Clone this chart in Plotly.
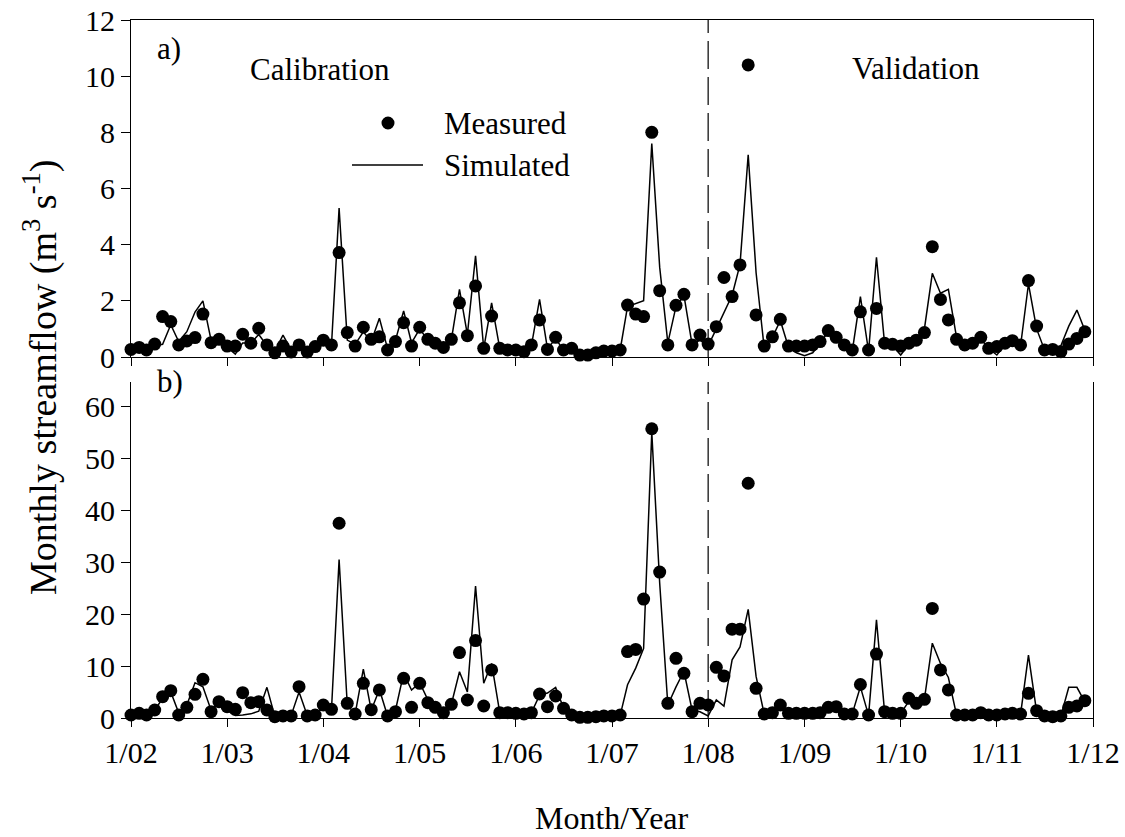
import pandas as pd
import plotly.graph_objects as go

# Monthly series, Jan 2002 - Dec 2011
months = pd.date_range("2002-01-01", periods=120, freq="MS")

# Panel a) streamflow (m3/s)
measured_a = [
    0.27, 0.34, 0.25, 0.46, 1.44, 1.26, 0.43, 0.57, 0.69, 1.53, 0.51, 0.63,
    0.39, 0.39, 0.81, 0.49, 1.02, 0.43, 0.15, 0.39, 0.18, 0.43, 0.18, 0.37,
    0.60, 0.43, 3.72, 0.87, 0.39, 1.06, 0.63, 0.72, 0.25, 0.55, 1.22, 0.39,
    1.06, 0.63, 0.49, 0.34, 0.63, 1.93, 0.76, 2.53, 0.31, 1.46, 0.31, 0.25,
    0.25, 0.19, 0.43, 1.32, 0.27, 0.70, 0.25, 0.31, 0.07, 0.07, 0.15, 0.21,
    0.21, 0.25, 1.85, 1.53, 1.44, 8.00, 2.36, 0.43, 1.84, 2.23, 0.43, 0.78,
    0.46, 1.08, 2.83, 2.15, 3.28, 10.40, 1.50, 0.39, 0.72, 1.34, 0.39, 0.39,
    0.39, 0.43, 0.55, 0.94, 0.70, 0.43, 0.25, 1.61, 0.25, 1.73, 0.49, 0.45,
    0.39, 0.49, 0.60, 0.87, 3.93, 2.05, 1.32, 0.63, 0.43, 0.49, 0.70, 0.31,
    0.37, 0.49, 0.58, 0.43, 2.72, 1.10, 0.25, 0.27, 0.19, 0.46, 0.66, 0.90,
]
simulated_a = [
    0.25, 0.30, 0.20, 0.40, 0.45, 1.15, 0.55, 0.90, 1.60, 2.00, 0.60, 0.60,
    0.35, 0.10, 0.50, 0.50, 0.80, 0.40, 0.20, 0.78, 0.25, 0.35, 0.20, 0.30,
    0.50, 0.40, 5.30, 0.60, 0.45, 0.90, 0.55, 1.38, 0.30, 0.60, 1.64, 0.50,
    1.00, 0.60, 0.45, 0.35, 0.60, 2.41, 0.80, 3.60, 0.30, 1.93, 0.30, 0.25,
    0.25, 0.20, 0.40, 2.05, 0.30, 0.65, 0.25, 0.30, 0.10, 0.10, 0.15, 0.20,
    0.20, 0.25, 1.80, 1.90, 2.00, 7.60, 3.20, 0.50, 1.80, 2.20, 0.45, 0.60,
    0.40, 1.00, 1.60, 2.20, 3.30, 7.20, 3.00, 0.30, 0.70, 1.30, 0.35, 0.15,
    0.05, 0.15, 0.50, 0.90, 0.70, 0.40, 0.20, 2.15, 0.20, 3.55, 0.45, 0.40,
    0.07, 0.45, 0.60, 1.00, 2.98, 2.27, 2.41, 0.70, 0.45, 0.50, 0.65, 0.30,
    0.07, 0.45, 0.55, 0.40, 2.60, 1.00, 0.25, 0.30, 0.40, 1.10, 1.67, 0.95,
]

# Panel b) streamflow (m3/s)
measured_b = [
    0.58, 0.90, 0.58, 1.54, 4.10, 5.27, 0.58, 2.06, 4.56, 7.45, 1.22, 3.15,
    2.18, 1.67, 4.88, 2.95, 3.15, 1.54, 0.26, 0.39, 0.39, 6.04, 0.39, 0.58,
    2.50, 1.67, 37.5, 2.83, 0.77, 6.68, 1.60, 5.40, 0.39, 1.22, 7.64, 2.06,
    6.68, 2.95, 2.06, 1.03, 2.63, 12.6, 3.47, 14.9, 2.31, 9.25, 1.03, 1.03,
    0.90, 0.77, 1.03, 4.62, 2.18, 4.24, 1.86, 0.58, 0.13, 0.13, 0.26, 0.39,
    0.39, 0.58, 12.8, 13.2, 22.9, 55.7, 28.1, 2.83, 11.5, 8.60, 1.22, 2.83,
    2.50, 9.76, 8.10, 17.1, 17.1, 45.2, 5.72, 0.77, 1.03, 2.50, 0.90, 0.90,
    0.90, 0.90, 1.03, 2.06, 2.18, 0.77, 0.77, 6.45, 0.58, 12.3, 1.22, 0.90,
    0.90, 3.79, 2.83, 3.60, 21.1, 9.25, 5.40, 0.58, 0.58, 0.58, 1.03, 0.58,
    0.58, 0.77, 0.90, 0.77, 4.75, 1.41, 0.39, 0.26, 0.39, 2.06, 2.31, 3.34,
]
simulated_b = [
    0.50, 0.70, 0.60, 1.50, 3.80, 5.00, 1.00, 2.50, 6.80, 6.00, 1.50, 3.00,
    1.50, 0.50, 0.60, 0.80, 1.30, 5.90, 0.30, 0.30, 0.50, 5.00, 0.50, 0.60,
    2.00, 1.50, 30.5, 2.50, 0.80, 9.40, 1.50, 5.50, 0.40, 1.50, 8.60, 5.40,
    6.80, 3.50, 2.00, 0.80, 2.60, 8.90, 5.00, 25.4, 6.70, 10.5, 1.00, 1.00,
    0.90, 0.80, 1.00, 4.40, 4.80, 5.90, 1.90, 0.60, 0.20, 0.20, 0.30, 0.40,
    0.40, 0.50, 6.40, 9.60, 13.4, 55.0, 26.0, 2.50, 6.00, 9.00, 1.50, 1.20,
    0.40, 3.50, 2.30, 11.2, 13.7, 20.9, 8.00, 0.70, 1.00, 2.50, 0.90, 0.90,
    0.90, 0.90, 1.00, 2.00, 2.00, 0.80, 0.80, 6.00, 0.50, 18.9, 1.00, 0.90,
    0.90, 3.20, 3.00, 3.60, 14.4, 10.5, 7.80, 0.60, 0.60, 0.60, 0.90, 0.60,
    0.60, 0.70, 0.90, 0.70, 12.1, 1.20, 0.40, 0.30, 0.40, 5.90, 5.90, 3.10,
]

year_ticks = pd.date_range("2002-01-01", "2012-01-01", freq="YS")
year_labels = [f"1/{d:%y}" for d in year_ticks]
split_date = pd.Timestamp("2008-01-01")

FONT = "Liberation Serif"
FS = 30      # tick labels
FS_TXT = 31  # panel text and axis titles

# plot-area edges in pixels, used to place free text in paper coordinates
W, H = 1125, 837
L, R, T, B = 131, 1093, 20, 718


def px(x):
    return (x - L) / (R - L)


def py(y):
    return (B - y) / (B - T)


fig = go.Figure()

for meas, sim, xa, ya in [(measured_a, simulated_a, "x", "y"),
                          (measured_b, simulated_b, "x2", "y2")]:
    fig.add_trace(go.Scatter(x=months, y=sim, mode="lines", xaxis=xa, yaxis=ya,
                             line=dict(color="black", width=1.5),
                             cliponaxis=False, showlegend=False))
    fig.add_trace(go.Scatter(x=months, y=meas, mode="markers", xaxis=xa, yaxis=ya,
                             marker=dict(color="black", size=13),
                             cliponaxis=False, showlegend=False))

axis_common = dict(showgrid=False, zeroline=False, showline=True,
                   linecolor="black", linewidth=1, ticks="outside",
                   tickcolor="black", tickwidth=1, automargin=False,
                   tickfont=dict(family=FONT, size=FS, color="black"))

x_range = [pd.Timestamp("2002-01-01"), pd.Timestamp("2012-01-01")]
dom_a = [py(357), 1.0]
dom_b = [0.0, py(382)]

fig.update_layout(
    width=W, height=H,
    margin=dict(l=L, r=W - R, t=T, b=H - B, autoexpand=False),
    paper_bgcolor="white", plot_bgcolor="white",
    font=dict(family=FONT, size=FS, color="black"),
    showlegend=False,
    xaxis=dict(axis_common, domain=[0, 1], anchor="y", range=x_range,
               tickvals=year_ticks, showticklabels=False, ticklen=8, mirror=True),
    yaxis=dict(axis_common, domain=dom_a, anchor="x", range=[0, 12],
               tickvals=list(range(0, 13, 2)), ticklen=9, mirror=True),
    xaxis2=dict(axis_common, domain=[0, 1], anchor="y2", range=x_range,
                tickvals=year_ticks, ticktext=year_labels, ticklen=8,
                matches="x"),
    yaxis2=dict(axis_common, domain=dom_b, anchor="x2", range=[0, 64.7],
                tickvals=list(range(0, 61, 10)), ticklen=9, mirror=True),
)

# calibration / validation split
for ya in ["y", "y2"]:
    fig.add_shape(type="line", xref="x", yref=f"{ya} domain",
                  x0=split_date, x1=split_date, y0=0, y1=1,
                  line=dict(color="black", width=1.2, dash="28px,8px"))

# legend drawn as shapes + text
fig.add_shape(type="circle", xref="paper", yref="paper",
              x0=px(381.5), x1=px(394.5), y0=py(129.5), y1=py(116.5),
              fillcolor="black", line=dict(color="black", width=0))
fig.add_shape(type="line", xref="paper", yref="paper",
              x0=px(352), x1=px(423), y0=py(165), y1=py(165),
              line=dict(color="black", width=1.5))


def text(s, x, y, xanchor="left", size=FS_TXT, **kw):
    fig.add_annotation(text=s, xref="paper", yref="paper", x=px(x), y=py(y),
                       xanchor=xanchor, yanchor="middle", showarrow=False,
                       font=dict(family=FONT, size=size, color="black"), **kw)


text("a)", 155, 48)
text("b)", 155, 381)
text("Calibration", 248, 70)
text("Validation", 850, 69)
text("Measured", 442, 123)
text("Simulated", 442, 165)
text("Month/Year", 612, 818, xanchor="center", size=32)
text("Monthly streamflow (m<sup>3</sup> s<sup>-1</sup>)", 40, 378,
     xanchor="center", textangle=-90, size=38)

fig.write_html("out.html")
